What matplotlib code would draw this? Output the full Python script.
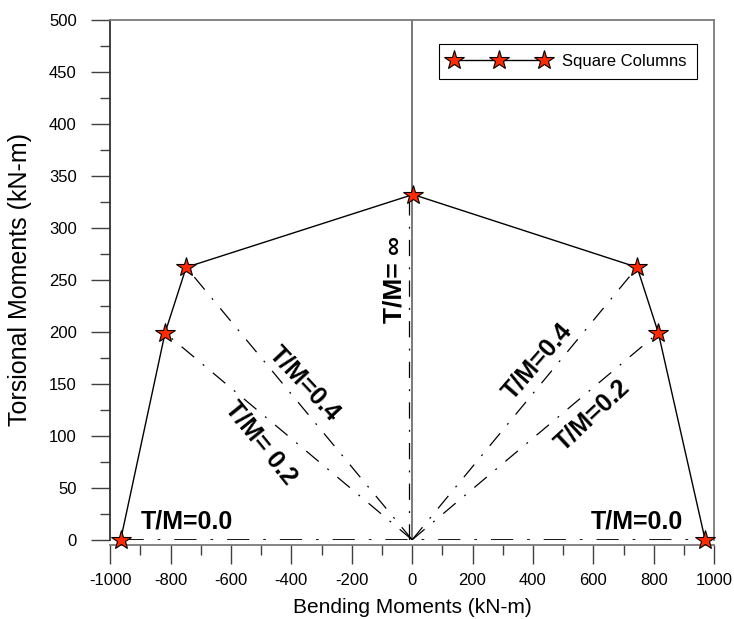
import numpy as np
import matplotlib.pyplot as plt
from matplotlib.ticker import MultipleLocator

plt.rcParams['font.family'] = ['Liberation Sans', 'DejaVu Sans']
plt.rcParams['axes.unicode_minus'] = False

# interaction points
bending = [-965, -818, -748, 3, 745, 815, 970]
torsion = [0, 199, 262, 332, 262, 199, 0]

# radial lines from origin (T/M ratios)
ray_x = [-818, -748, 745, 815]
ray_y = [199, 262, 262, 199]
inf_ray_x = -12  # T/M = infinity line sits just left of the zero line

dash_pat = (13, 9, 1.5, 9)

fig = plt.figure(figsize=(7.34, 6.19), dpi=100)
ax = fig.add_axes([0.150, 0.128, 0.823, 0.840])

ax.axvline(0, color='#6e6e6e', lw=1.3, zorder=1)

for xr, yr in zip(ray_x, ray_y):
    ax.plot([0, xr], [0, yr], color='black', lw=0.9, dashes=dash_pat, zorder=2)
ax.plot([inf_ray_x, inf_ray_x], [0, torsion[3]], color='black', lw=0.9,
        dashes=dash_pat, zorder=2)
ax.plot([bending[0], bending[-1]], [0, 0], color='black', lw=2.0,
        dashes=(8, 5, 1, 5), zorder=2)

ax.plot(bending, torsion, color='black', lw=1.0, marker='*', markersize=15,
        markerfacecolor='#ff2a00', markeredgecolor='black', markeredgewidth=0.8,
        label='Square Columns', zorder=5, clip_on=False)

bold = dict(fontsize=18, fontweight='bold', ha='center', va='center')
ax.text(-745, 18, 'T/M=0.0', **bold)
ax.text(745, 18, 'T/M=0.0', **bold)
ax.text(-58, 250, 'T/M= ∞', rotation=90, fontsize=19, fontweight='bold',
        ha='center', va='center')
ax.text(-355, 150, 'T/M=0.4', rotation=-47, **bold)
ax.text(-500, 93, 'T/M= 0.2', rotation=-51, **bold)
ax.text(415, 172, 'T/M=0.4', rotation=49, **bold)
ax.text(598, 120, 'T/M=0.2', rotation=43, **bold)

ax.set_xlim(-1000, 1000)
ax.set_ylim(0, 500)
ax.xaxis.set_major_locator(MultipleLocator(200))
ax.xaxis.set_minor_locator(MultipleLocator(100))
ax.yaxis.set_major_locator(MultipleLocator(50))
ax.yaxis.set_minor_locator(MultipleLocator(25))
ax.tick_params(which='major', direction='out', length=14, width=1, color='#404040',
               labelsize=12, pad=6)
ax.tick_params(axis='y', which='major', pad=10)
ax.tick_params(which='minor', direction='out', length=7, width=1, color='#404040')

ax.spines['bottom'].set_position(('outward', 4))
ax.spines['left'].set_color('#303030')
for s in ['top', 'right', 'bottom']:
    ax.spines[s].set_color('#7a7a7a')
for s in ax.spines.values():
    s.set_linewidth(1.3)

ax.set_xlabel('Bending Moments (kN-m)', fontsize=15, labelpad=7)
ax.set_ylabel('Torsional Moments (kN-m)', fontsize=18, labelpad=12)

leg = ax.legend(loc='upper right', bbox_to_anchor=(0.985, 0.97), numpoints=3,
                handlelength=6, fontsize=12, fancybox=False, framealpha=1,
                edgecolor='black', borderpad=0.6)
leg.get_frame().set_linewidth(0.8)

fig.savefig('out.png', dpi=100)
